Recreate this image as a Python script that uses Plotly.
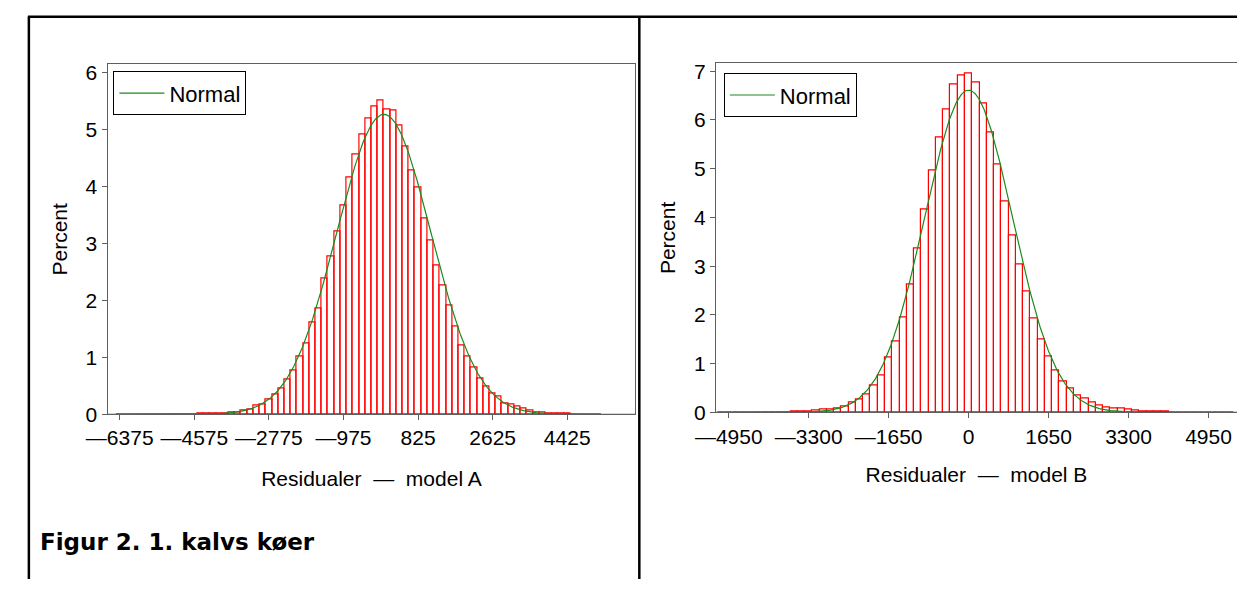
import plotly.graph_objects as go
import numpy as np

W, H = 1237, 590

# ---------------- data ----------------
bin_width = 150

# Model A histogram (bin midpoints, percent)
a_centers = [-6375 + 150 * i for i in range(78)]
a_percent = [
    0.003, 0.003, 0.003, 0.003, 0.003, 0.003, 0.003, 0.003, 0.003, 0.003,
    0.003, 0.005, 0.005, 0.008, 0.01, 0.01, 0.015, 0.02, 0.03, 0.04,
    0.07, 0.08, 0.15, 0.17, 0.26, 0.35, 0.45, 0.61, 0.77, 1.02,
    1.25, 1.61, 1.86, 2.38, 2.77, 3.22, 3.67, 4.16, 4.56, 4.92,
    5.20, 5.41, 5.51, 5.36, 5.34, 5.08, 4.71, 4.29, 3.98, 3.45,
    3.06, 2.62, 2.27, 1.91, 1.54, 1.21, 1.02, 0.83, 0.63, 0.49,
    0.36, 0.31, 0.19, 0.18, 0.14, 0.11, 0.07, 0.04, 0.03, 0.02,
    0.01, 0.01, 0.008, 0.005, 0.003, 0.003, 0.003, 0.003,
]
a_mean, a_sd = 0.0, 1135.0
a_ticks = [-6375, -4575, -2775, -975, 825, 2625, 4425]
a_ticktext = ["—6375", "—4575", "—2775", "—975", "825", "2625", "4425"]
a_yticks = [0, 1, 2, 3, 4, 5, 6]
a_xrange = [-6670, 6070]
a_yrange = [0, 6.15]

# Model B histogram
b_centers = [-5100 + 150 * i for i in range(71)]
b_percent = [
    0.003, 0.003, 0.003, 0.003, 0.003, 0.003, 0.003, 0.005, 0.005, 0.008,
    0.01, 0.015, 0.025, 0.03, 0.05, 0.06, 0.09, 0.13, 0.20, 0.26,
    0.37, 0.55, 0.76, 1.13, 1.46, 1.95, 2.63, 3.37, 4.17, 4.97,
    5.65, 6.22, 6.72, 6.92, 6.95, 6.78, 6.34, 5.74, 5.09, 4.32,
    3.63, 3.03, 2.48, 1.93, 1.49, 1.15, 0.87, 0.63, 0.50, 0.35,
    0.28, 0.20, 0.15, 0.11, 0.09, 0.07, 0.05, 0.03, 0.02, 0.015,
    0.01, 0.01, 0.005, 0.005, 0.005, 0.003, 0.003, 0.003, 0.003, 0.003,
    0.003,
]
b_mean, b_sd = 0.0, 905.0
b_ticks = [-4950, -3300, -1650, 0, 1650, 3300, 4950]
b_ticktext = ["—4950", "—3300", "—1650", "0", "1650", "3300", "4950"]
b_yticks = [0, 1, 2, 3, 4, 5, 6, 7]
b_xrange = [-5213, 5538]
b_yrange = [0, 7.16]

x_titles = ["Residualer  —  model A", "Residualer  —  model B"]
caption = "Figur 2. 1. kalvs køer"


def normal_curve(mean, sd, xr):
    xs = np.linspace(xr[0], xr[1], 600)
    ys = 100.0 * bin_width / (sd * np.sqrt(2 * np.pi)) * np.exp(-0.5 * ((xs - mean) / sd) ** 2)
    return xs, ys


# ---------------- figure ----------------
FONT = "Liberation Sans, Arial, sans-serif"
AXC = "#5f5f5f"
fig = go.Figure()


def px_x(p):
    return p / W


def px_y(p):
    return 1 - p / H


panels = [
    dict(xa="x", ya="y", centers=a_centers, vals=a_percent, mean=a_mean, sd=a_sd,
         xr=a_xrange, legend="legend"),
    dict(xa="x2", ya="y2", centers=b_centers, vals=b_percent, mean=b_mean, sd=b_sd,
         xr=b_xrange, legend="legend2"),
]
for p in panels:
    fig.add_trace(go.Bar(
        x=p["centers"], y=p["vals"], width=bin_width,
        marker=dict(color="rgba(255,255,255,0)", line=dict(color="#ff0000", width=1.2)),
        xaxis=p["xa"], yaxis=p["ya"], showlegend=False, hoverinfo="skip"))
    cx, cy = normal_curve(p["mean"], p["sd"], p["xr"])
    fig.add_trace(go.Scatter(
        x=cx, y=cy, mode="lines", name="Normal",
        line=dict(color="#1a8c1a", width=1.2),
        xaxis=p["xa"], yaxis=p["ya"], legend=p["legend"], showlegend=True))

axis_common = dict(showgrid=False, zeroline=False, showline=True, linecolor=AXC, linewidth=1,
                   ticks="outside", ticklen=5, tickcolor=AXC, tickwidth=1,
                   tickfont=dict(family=FONT, size=21, color="black"))

fig.update_layout(
    width=W, height=H, margin=dict(l=0, r=0, t=0, b=0),
    paper_bgcolor="white", plot_bgcolor="white", bargap=0,
    font=dict(family=FONT, size=21, color="black"),
    xaxis=dict(domain=[px_x(88), px_x(625)], range=a_xrange, anchor="y",
               tickmode="array", tickvals=a_ticks, ticktext=a_ticktext, mirror=True,
               title=dict(text=x_titles[0], font=dict(size=21), standoff=22), **axis_common),
    yaxis=dict(domain=[px_y(421), px_y(62)], range=a_yrange, anchor="x",
               tickmode="array", tickvals=a_yticks, mirror=True,
               title=dict(text="Percent", font=dict(size=21), standoff=12), **axis_common),
    xaxis2=dict(domain=[px_x(707), 1.0], range=b_xrange, anchor="y2",
                tickmode="array", tickvals=b_ticks, ticktext=b_ticktext, mirror=True,
                title=dict(text=x_titles[1], font=dict(size=21), standoff=20), **axis_common),
    yaxis2=dict(domain=[px_y(419), px_y(61)], range=b_yrange, anchor="x2",
                tickmode="array", tickvals=b_yticks, mirror=False,
                title=dict(text="Percent", font=dict(size=21), standoff=12), **axis_common),
    legend=dict(x=px_x(94), y=px_y(69), xanchor="left", yanchor="top",
                bordercolor="black", borderwidth=1, bgcolor="white",
                font=dict(family=FONT, size=22), itemwidth=45),
    legend2=dict(x=px_x(715), y=px_y(71), xanchor="left", yanchor="top",
                 bordercolor="black", borderwidth=1, bgcolor="white",
                 font=dict(family=FONT, size=22), itemwidth=45),
)

# document table borders
border = dict(color="black", width=2.5)
fig.add_shape(type="line", xref="paper", yref="paper", x0=px_x(7), x1=1.0, y0=px_y(13), y1=px_y(13), line=border)
fig.add_shape(type="line", xref="paper", yref="paper", x0=px_x(8), x1=px_x(8), y0=px_y(13), y1=0, line=border)
fig.add_shape(type="line", xref="paper", yref="paper", x0=px_x(629), x1=px_x(629), y0=px_y(13), y1=0, line=border)

fig.add_annotation(text="<b>" + caption + "</b>", xref="paper", yref="paper",
                   x=px_x(17), y=px_y(552), xanchor="left", yanchor="middle", showarrow=False,
                   font=dict(family="DejaVu Sans, Verdana, sans-serif", size=23, color="black"))

fig.write_html("out.html", config={"displayModeBar": False},
               post_script="document.body.style.margin='0';")
